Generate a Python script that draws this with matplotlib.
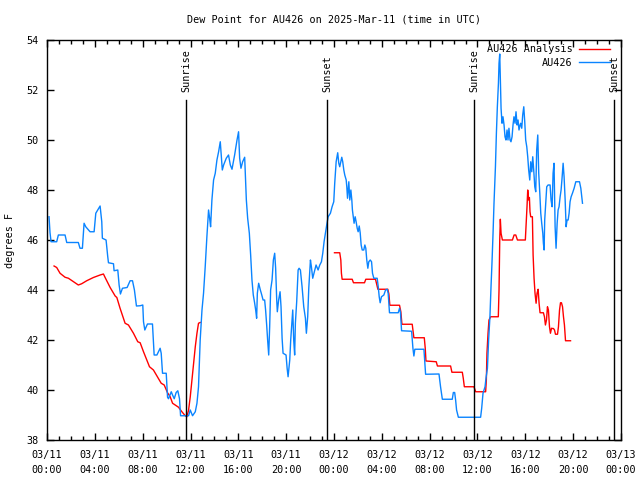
import numpy as np
import matplotlib
matplotlib.use("Agg")
import matplotlib.pyplot as plt
from matplotlib.ticker import MultipleLocator

plt.rcParams['font.family'] = ['DejaVu Sans Mono']
FS = 7.3

# hours since 2025-03-11 00:00 UTC
obs_hours = [0.17, 0.25, 0.34, 0.81, 0.95, 1.51, 1.65, 2.62, 2.76, 2.96, 3.10, 3.24, 3.60, 3.94,
             4.08, 4.44, 4.58, 4.63, 4.94, 5.08, 5.14, 5.56, 5.61, 5.92, 6.03, 6.14, 6.31, 6.70,
             6.95, 7.15, 7.31, 7.48, 7.79, 8.01, 8.07, 8.18, 8.40, 8.82, 8.96, 9.19, 9.46, 9.55,
             9.66, 9.97, 10.08, 10.16, 10.39, 10.50, 10.64, 10.80, 10.94, 11.08, 11.17, 11.84,
             11.98, 12.17, 12.40, 12.54, 12.67, 12.81, 12.96, 13.09, 13.23, 13.37, 13.51, 13.60,
             13.68, 13.79, 13.93, 14.07, 14.21, 14.35, 14.49, 14.57, 14.66, 14.77, 14.99, 15.18,
             15.33, 15.47, 15.69, 15.89, 16.02, 16.11, 16.22, 16.36, 16.53, 16.58, 16.67, 16.78,
             16.92, 17.03, 17.14, 17.25, 17.36, 17.45, 17.53, 17.59, 17.70, 17.84, 17.92, 18.07,
             18.20, 18.28, 18.37, 18.45, 18.54, 18.62, 18.70, 18.82, 18.93, 19.04, 19.12, 19.21,
             19.26, 19.37, 19.49, 19.57, 19.66, 19.74, 19.99, 20.08, 20.16, 20.30, 20.38, 20.49,
             20.55, 20.63, 20.71, 20.77, 20.88, 21.00, 21.08, 21.19, 21.33, 21.47, 21.61, 21.69,
             21.80, 21.89, 22.03, 22.11, 22.22, 22.36, 22.50, 22.67, 22.81, 22.95, 23.06, 23.17,
             23.28, 23.39, 23.51, 23.70, 23.84, 23.98, 24.06, 24.18, 24.31, 24.40, 24.48, 24.57,
             24.65, 24.73, 24.82, 24.90, 25.02, 25.07, 25.13, 25.24, 25.32, 25.41, 25.49, 25.54,
             25.63, 25.68, 25.77, 25.85, 25.94, 26.02, 26.11, 26.19, 26.27, 26.36, 26.49, 26.58,
             26.66, 26.74, 26.83, 26.91, 27.03, 27.14, 27.22, 27.33, 27.61, 27.70, 27.78, 27.86,
             27.97, 28.17, 28.31, 28.45, 28.53, 28.64, 29.37, 29.48, 29.56, 29.65, 30.49, 30.60,
             30.68, 30.76, 31.52, 31.60, 31.66, 32.78, 32.91, 33.06, 33.89, 33.98, 34.09, 34.17,
             34.25, 34.40, 36.26, 36.35, 36.46, 36.63, 36.71, 36.83, 36.93, 37.04, 37.13, 37.21,
             37.30, 37.38, 37.50, 37.58, 37.66, 37.75, 37.80, 37.86, 37.91, 37.97, 38.05, 38.13,
             38.22, 38.30, 38.38, 38.47, 38.55, 38.63, 38.72, 38.80, 38.89, 38.97, 39.05, 39.14,
             39.22, 39.31, 39.39, 39.47, 39.56, 39.61, 39.70, 39.78, 39.87, 39.95, 40.03, 40.12,
             40.20, 40.28, 40.37, 40.45, 40.54, 40.62, 40.70, 40.79, 40.87, 40.95, 41.04, 41.12,
             41.21, 41.29, 41.37, 41.46, 41.51, 41.57, 41.62, 41.71, 41.79, 41.90, 42.07, 42.15,
             42.24, 42.32, 42.40, 42.49, 42.57, 42.66, 42.74, 42.82, 42.91, 42.99, 43.07, 43.16,
             43.24, 43.33, 43.41, 43.49, 43.58, 43.66, 43.74, 43.83, 43.94, 44.08, 44.22, 44.42,
             44.53, 44.64, 44.72, 44.78]
obs_vals = [46.93, 46.3, 45.93, 45.93, 46.2, 46.2, 45.9, 45.9, 45.67, 45.67, 46.67, 46.53, 46.33, 46.33,
            47.07, 47.36, 46.73, 46.07, 46.0, 45.33, 45.09, 45.05, 44.77, 44.8, 44.2, 43.84, 44.07, 44.1,
            44.37, 44.37, 44.0, 43.36, 43.37, 43.4, 42.73, 42.4, 42.64, 42.64, 41.4, 41.4, 41.67, 41.47,
            40.67, 40.67, 39.71, 39.65, 39.93, 39.8, 39.65, 39.9, 39.97, 39.65, 38.97, 38.97,
            39.2, 38.97, 39.13, 39.47, 40.13, 42.0, 43.2, 43.87, 44.93, 46.13, 47.2, 46.87,
            46.53, 47.6, 48.4, 48.67, 49.2, 49.53, 49.93, 49.4, 48.8, 49.0, 49.27, 49.4,
            49.0, 48.83, 49.4, 50.0, 50.33, 49.27, 48.87, 49.13, 49.31, 48.73, 47.6, 46.87,
            46.27, 45.4, 44.4, 43.8, 43.49, 43.2, 42.87, 43.87, 44.27, 44.0, 43.87, 43.6,
            43.6, 43.2, 42.6, 42.0, 41.4, 42.53, 44.0, 44.4, 45.2, 45.47, 44.87, 43.6,
            43.13, 43.6, 43.93, 43.33, 42.07, 41.47, 41.4, 40.87, 40.53, 41.2, 42.0, 42.8,
            43.2, 42.0, 41.4, 42.67, 43.53, 44.8, 44.87, 44.8, 44.13, 43.33, 42.87, 42.27,
            42.93, 44.07, 45.2, 44.93, 44.47, 44.73, 45.0, 44.8, 45.0, 45.13, 45.47, 45.93,
            46.27, 46.6, 46.93, 47.07, 47.33, 47.53, 48.27, 49.13, 49.49, 49.07, 48.93, 49.13,
            49.31, 49.13, 48.8, 48.6, 48.4, 48.13, 47.67, 48.33, 47.6, 48.0, 47.6, 47.2,
            46.87, 46.67, 46.93, 46.73, 46.47, 46.33, 46.56, 46.29, 45.8, 45.6, 45.6, 45.8,
            45.67, 45.2, 44.87, 45.13, 45.2, 45.13, 44.67, 44.47, 44.47, 44.13, 43.73, 43.49,
            43.73, 43.8, 44.0, 44.03, 43.87, 43.09, 43.09, 43.27, 43.09, 42.37, 42.35, 41.67,
            41.36, 41.63, 41.63, 41.07, 40.63, 40.64, 40.13, 39.63, 39.63, 39.9, 39.9, 39.6,
            39.2, 38.91, 38.91, 39.27, 39.87, 40.13, 40.47, 40.87, 42.0, 42.93, 44.13, 45.07,
            46.27, 47.47, 48.93, 50.27, 51.33, 52.27, 53.07, 53.44, 52.4, 51.27, 50.67, 50.93,
            50.6, 50.13, 50.0, 50.4, 50.0, 50.47, 50.0, 49.93, 50.13, 50.6, 50.93, 50.67,
            51.13, 50.6, 50.8, 50.4, 50.6, 50.67, 50.47, 51.0, 51.33, 50.73, 50.0, 49.73,
            49.33, 48.8, 48.4, 49.13, 48.73, 49.33, 48.8, 48.13, 47.93, 49.6, 50.2, 48.67,
            47.87, 47.07, 46.67, 46.27, 45.87, 45.6, 46.8, 47.47, 48.13, 48.2, 48.2, 47.6,
            47.33, 48.67, 49.07, 46.53, 45.67, 46.67, 47.2, 47.33, 47.73, 48.0, 48.47, 49.07,
            48.53, 47.6, 46.53, 46.8, 46.8, 47.07, 47.53, 47.73, 47.87, 48.07, 48.33, 48.33,
            48.33, 48.07, 47.73, 47.47]

ana_hours = [0.59, 0.81, 1.09, 1.51, 1.79, 2.35, 2.62, 2.90, 3.32, 3.88, 4.44, 4.72, 4.86, 5.28,
             5.70, 5.84, 6.11, 6.53, 6.81, 7.23, 7.59, 7.79, 8.07, 8.35, 8.57, 8.90, 9.19, 9.55,
             9.80, 10.08, 10.30, 10.50, 10.72, 11.00, 11.28, 11.56, 11.70, 11.84, 11.98, 12.12,
             12.26, 12.40, 12.54, 12.67, 12.81, 18.0,
             24.04, 24.48, 24.57, 24.62, 24.68, 25.52, 25.63, 26.55, 26.66, 27.47, 27.55, 27.67,
             28.50, 28.59, 28.67, 29.48, 29.59, 29.68, 30.54, 30.63, 30.68, 31.55, 31.63, 31.69,
             32.55, 32.65, 33.75, 33.86, 34.73, 34.81, 34.90, 35.70, 35.85, 36.68, 36.74, 36.79,
             36.88, 36.96, 37.10, 37.74, 37.80, 37.86, 37.91, 37.97, 38.08, 38.92, 39.06, 39.20,
             39.34, 40.00, 40.06, 40.14, 40.20, 40.28, 40.34, 40.39, 40.45, 40.59, 40.65, 40.73,
             40.81, 40.90, 40.98, 41.07, 41.15, 41.23, 41.51, 41.60, 41.68, 41.77, 41.85, 41.93,
             42.02, 42.10, 42.19, 42.27, 42.35, 42.44, 42.52, 42.69, 42.77, 42.86, 42.94, 43.02,
             43.11, 43.19, 43.27, 43.36, 43.78]
ana_vals = [44.96, 44.9, 44.67, 44.51, 44.47, 44.29, 44.2, 44.25, 44.37, 44.5, 44.6, 44.64, 44.5, 44.1,
            43.76, 43.7, 43.27, 42.67, 42.6, 42.27, 41.93, 41.89, 41.53, 41.2, 40.93, 40.8, 40.56, 40.27,
            40.2, 39.89, 39.73, 39.47, 39.4, 39.31, 39.13, 38.97, 38.93, 39.2, 39.73, 40.4,
            41.07, 41.73, 42.27, 42.67, 42.7, np.nan,
            45.49, 45.49, 45.2, 44.67, 44.43, 44.43, 44.29, 44.29, 44.43, 44.43, 44.27, 44.03,
            44.03, 43.84, 43.39, 43.39, 43.13, 42.63, 42.63, 42.27, 42.09, 42.09, 41.67, 41.16,
            41.13, 40.96, 40.96, 40.71, 40.71, 40.47, 40.13, 40.13, 39.93, 39.93, 40.4, 41.47,
            42.27, 42.8, 42.93, 42.93, 44.0, 46.0, 46.83, 46.27, 46.0, 46.0, 46.2, 46.2,
            46.0, 46.0, 46.56, 47.33, 48.0, 47.6, 47.7, 47.13, 46.93, 46.93, 45.4, 44.47,
            43.87, 43.47, 43.87, 44.03, 43.47, 43.09, 43.09, 42.93, 42.6, 42.8, 43.33, 43.2,
            42.53, 42.27, 42.47, 42.46, 42.46, 42.4, 42.23, 42.23, 42.53, 43.2, 43.49, 43.49,
            43.33, 42.93, 42.6, 41.97, 41.97]

sun_hours = [11.62, 23.44, 35.73, 47.43]
sun_labels = ["Sunrise", "Sunset", "Sunrise", "Sunset"]

tick_hours = [0, 4, 8, 12, 16, 20, 24, 28, 32, 36, 40, 44, 48]
tick_labels = ["03/11\n00:00", "03/11\n04:00", "03/11\n08:00", "03/11\n12:00", "03/11\n16:00",
               "03/11\n20:00", "03/12\n00:00", "03/12\n04:00", "03/12\n08:00", "03/12\n12:00",
               "03/12\n16:00", "03/12\n20:00", "03/13\n00:00"]

RED = "#ff0000"
BLUE = "#0a84ff"

fig = plt.figure(figsize=(6.4, 4.8), dpi=100)
ax = fig.add_axes([47/640, 1 - 440/480, 574/640, 400/480])

ax.plot(ana_hours, ana_vals, color=RED, lw=1.0, label="AU426 Analysis")
ax.plot(obs_hours, obs_vals, color=BLUE, lw=1.0, label="AU426")

for h, lab in zip(sun_hours, sun_labels):
    ax.plot([h, h], [0, 0.85], color="black", lw=1.0, transform=ax.get_xaxis_transform())
    ax.text(h, 0.87, lab, rotation=90, ha="center", va="bottom", fontsize=FS,
            transform=ax.get_xaxis_transform())

ax.set_xlim(0, 48)
ax.set_ylim(38, 54)
ax.set_xticks(tick_hours)
ax.set_xticklabels(tick_labels, fontsize=FS, linespacing=1.6)
ax.xaxis.set_minor_locator(MultipleLocator(1))
ax.set_yticks(np.arange(38, 55, 2))
ax.tick_params(axis="y", labelsize=FS)
ax.tick_params(which="major", direction="in", length=5, width=1, top=True, right=True, pad=6)
ax.tick_params(axis="x", which="major", pad=7.5)
ax.tick_params(which="minor", direction="in", length=3, width=1, top=True, right=True)
ax.tick_params(axis="y", which="minor", left=False, right=False)
for s in ax.spines.values():
    s.set_linewidth(1.0)

ax.set_title("Dew Point for AU426 on 2025-Mar-11 (time in UTC)", fontsize=FS, pad=12.8)
ax.set_ylabel("degrees F", fontsize=FS, labelpad=8)

leg = ax.legend(loc="upper right", bbox_to_anchor=(1 - 4/574, 1 + 3/400), frameon=False,
                markerfirst=False, fontsize=FS, handlelength=3.0, handletextpad=0.7,
                labelspacing=0.35, borderaxespad=0.3)

fig.savefig("out.png", dpi=100)
